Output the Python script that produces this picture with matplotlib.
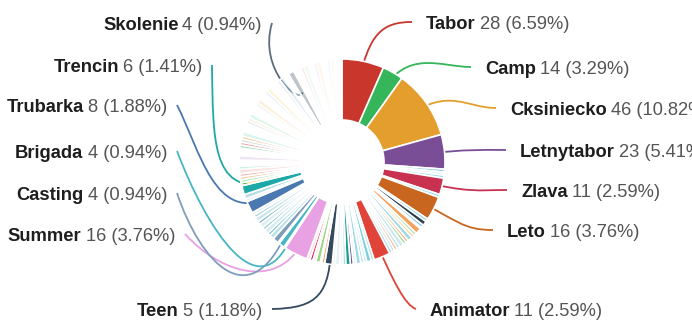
import numpy as np
import matplotlib.pyplot as plt
from matplotlib.path import Path
from matplotlib.patches import PathPatch
from matplotlib.colors import to_rgba

plt.rcParams['font.family'] = ['Liberation Sans', 'DejaVu Sans']

# slices clockwise from 12 o'clock; None = unlabeled keyword
names = [
    'Tabor', 'Camp', 'Cksiniecko', 'Letnytabor',
    None, None, None, 'Zlava', None, 'Leto',
    None, None, None, None, None, None, None, None, None, None, None, None, None, None, None,
    'Animator',
    None, None, None, None, None, None, None, None, None, None, None, None,
    'Teen',
    None, None, None, None, None, None,
    'Summer', None, 'Brigada', None, 'Casting',
    None, None, None, None, None, None, None, None, None,
    'Trubarka', None, None, 'Trencin',
    None, None, None, None, None, None, None, None, None, None, None, None, None, None, None,
    None, None, None, None, None, None, None, None, None, None, None, None, None,
    'Skolenie',
    None, None, None, None, None, None, None, None, None, None,
]
values = [
    28, 14, 46, 23,
    2, 2, 2, 11, 2, 16,
    2, 3, 2, 1, 4, 2, 2, 3, 2, 2, 3, 2, 2, 2, 2,
    11,
    2, 3, 2, 2, 3, 2, 2, 3, 2, 2, 3, 2,
    5,
    2, 1, 3, 2, 2, 2,
    16, 1, 4, 1, 4,
    3, 2, 3, 2, 3, 2, 3, 2, 2,
    8, 2, 3, 6,
    2, 2, 2, 2, 3, 2, 4, 3, 5, 2, 2, 2, 2, 3, 6,
    2, 2, 3, 6, 2, 3, 5, 2, 3, 6, 2, 3, 4,
    4,
    5, 2, 3, 4, 2, 3, 4, 2, 3, 5,
]
colors = [
    '#c9372c', '#35b65a', '#e39e2d', '#7a4e96',
    '#8fd0e0', '#e4f2f6', '#a6dce8', '#c83250', '#9fd6e4', '#c8661f',
    '#8fd0e0', '#2e3f52', '#7fc8dc', '#d8eef4', '#f4a25f', '#a8dc98', '#f8cf90', '#9cd8e6',
    '#f5b07a', '#98d48a', '#cfe8ee', '#a6dce8', '#f5b896', '#c4e4e8', '#9fd2e2',
    '#e0433a',
    '#9fdde6', '#7fcfe0', '#cfeef2', '#b0e2ea', '#9ed8e4', '#e6eef0', '#6b5a9e', '#1a9e8e',
    '#9fd6e4', '#eef2f2', '#e8f0f0', '#f2f4f4',
    '#34495e',
    '#f6a86e', '#d8eed8', '#9ad68a', '#eeeeee', '#e8174f', '#f5d8e6',
    '#e8a2e4', '#f0f0f0', '#48b5c4', '#eef6f8', '#7f9db9',
    '#b8e2ea', '#7dbdca', '#d6ecf0', '#8fcad6', '#e0eef2', '#6eaebe', '#cce6ec', '#9cd0dc', '#e4eef2',
    '#4a78b0', '#e8f0f4', '#b5dde6', '#1fa8a8',
    '#f1c40f', '#2ecc71', '#e67e22', '#e74c3c', '#f5b7b1', '#76d7c4', '#ffffff', '#d7bde2',
    '#ffffff', '#27ae60', '#c0392b', '#95a5a6', '#e67e22', '#a3e4d7', '#ffffff',
    '#bdc3c7', '#f5cba7', '#abebc6', '#ffffff', '#d5dbdb', '#fad7a0', '#ffffff', '#aed6f1',
    '#f9e79f', '#ffffff', '#d2b4de', '#a9cce3', '#ffffff',
    '#5d6d7e',
    '#ffffff', '#f5b7b1', '#d5f5e3', '#ffffff', '#e8daef', '#fdebd0', '#ffffff', '#d6eaf8',
    '#fef9e7', '#ffffff',
]

W, H = 692, 320
CX, CY = 342, 162          # pie centre, pixels from top-left
R_OUT, R_IN = 103, 42

# label placement: side ('L' = text starts at x, 'R' = text ends at x), x, baseline y
label_pos = {
    'Tabor': ('L', 426, 29), 'Camp': ('L', 485, 74), 'Cksiniecko': ('L', 510, 115),
    'Letnytabor': ('L', 520, 157), 'Zlava': ('L', 521, 197), 'Leto': ('L', 507, 237),
    'Animator': ('L', 430, 316), 'Teen': ('R', 262, 316), 'Summer': ('R', 175, 241),
    'Casting': ('R', 167, 200), 'Brigada': ('R', 167, 158), 'Trubarka': ('R', 167, 112),
    'Trencin': ('R', 202, 72), 'Skolenie': ('R', 262, 30),
}
# hand-tuned bezier handles for leaders that wrap around the ring
leader_ctrl = {
    'Animator': ((394, 283), (405, 305)),
    'Teen': ((330, 295), (318, 308)),
    'Summer': ((285, 290), (225, 278)),
    'Brigada': ((262, 322), (205, 225)),
    'Casting': ((252, 322), (200, 262)),
    'Trubarka': ((215, 225), (200, 150)),
    'Trencin': ((212, 192), (213, 140)),
    'Skolenie': ((300, 105), (258, 70)),
}

values = np.array(values, dtype=float)
total = values.sum()
last_bright = names.index('Trencin')
face = [to_rgba(c, 1.0 if i <= last_bright else 0.4) for i, c in enumerate(colors)]

fig = plt.figure(figsize=(W / 100, H / 100), dpi=100)
ax = fig.add_axes([0, 0, 1, 1])
ax.pie(values, colors=face, startangle=90, counterclock=False,
       radius=R_OUT, center=(CX, H - CY),
       wedgeprops=dict(width=R_OUT - R_IN, edgecolor='white', linewidth=1.2, zorder=3))
ax.set_xlim(0, W)
ax.set_ylim(0, H)
ax.set_aspect('equal')
ax.axis('off')

renderer = fig.canvas.get_renderer()
cum = np.cumsum(values)
mids = (cum - values / 2) / total * 360


def pt(theta, r):
    t = np.radians(theta)
    return (CX + r * np.sin(t), CY - r * np.cos(t))


def dat(p):
    return (p[0], H - p[1])


fs = 13.2
for i, name in enumerate(names):
    if name is None:
        continue
    side, x, yb = label_pos[name]
    rest = f"{int(values[i])} ({values[i] / total * 100:.2f}%)"
    if side == 'L':
        t1 = ax.text(x, H - yb, name, ha='left', va='baseline', fontsize=fs,
                     fontweight='bold', color='#1e1e1e')
        w = t1.get_window_extent(renderer).width
        ax.text(x + w + 4, H - yb, rest, ha='left', va='baseline', fontsize=fs, color='#555555')
        end = (x - 14, yb - 7)
    else:
        t2 = ax.text(x, H - yb, rest, ha='right', va='baseline', fontsize=fs, color='#555555')
        w = t2.get_window_extent(renderer).width
        ax.text(x - w - 4, H - yb, name, ha='right', va='baseline', fontsize=fs,
                fontweight='bold', color='#1e1e1e')
        end = (x + 10, yb - 7)

    theta = mids[i]
    p0 = pt(theta, 80)
    if name in leader_ctrl:
        p1, p2 = leader_ctrl[name]
    else:
        p1 = pt(theta, R_OUT + 28)
        p2 = (end[0] - 30 if side == 'L' else end[0] + 30, end[1])
    path = Path([dat(p0), dat(p1), dat(p2), dat(end)],
                [Path.MOVETO, Path.CURVE4, Path.CURVE4, Path.CURVE4])
    ax.add_patch(PathPatch(path, facecolor='none', edgecolor=colors[i],
                           linewidth=1.3, zorder=1))

fig.savefig('out.png', dpi=100)
